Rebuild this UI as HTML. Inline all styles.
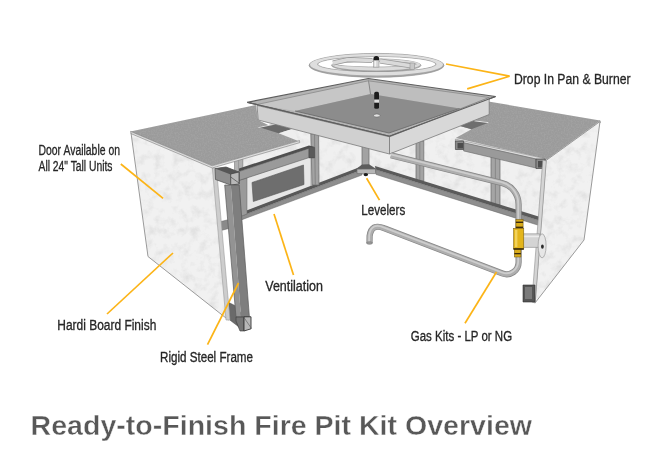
<!DOCTYPE html>
<html><head><meta charset="utf-8">
<style>
html,body{margin:0;padding:0;background:#fff;}
body{width:661px;height:472px;overflow:hidden;}
svg{display:block;}
text{font-family:"Liberation Sans",sans-serif;}
</style></head>
<body>
<svg width="661" height="472" viewBox="0 0 661 472">
<defs>
<filter id="tex" x="0" y="0" width="100%" height="100%" filterUnits="userSpaceOnUse">
  <feTurbulence type="fractalNoise" baseFrequency="0.11" numOctaves="4" seed="7" result="n"/>
  <feColorMatrix in="n" type="matrix" values="0 0 0 0 0.76  0 0 0 0 0.76  0 0 0 0 0.76  0 0 0 -2.6 1.4" result="m"/>
  <feComposite in="m" in2="SourceGraphic" operator="in" result="s"/>
  <feMerge><feMergeNode in="SourceGraphic"/><feMergeNode in="s"/></feMerge>
</filter>
<filter id="tex2" x="0" y="0" width="100%" height="100%" filterUnits="userSpaceOnUse">
  <feTurbulence type="fractalNoise" baseFrequency="0.7" numOctaves="2" seed="11" result="n"/>
  <feColorMatrix in="n" type="matrix" values="0 0 0 0 0.5  0 0 0 0 0.5  0 0 0 0 0.5  0 0 0 -0.6 0.35" result="m"/>
  <feComposite in="m" in2="SourceGraphic" operator="in" result="s"/>
  <feMerge><feMergeNode in="SourceGraphic"/><feMergeNode in="s"/></feMerge>
</filter>
<filter id="soft" x="0" y="0" width="661" height="472" filterUnits="userSpaceOnUse">
  <feGaussianBlur stdDeviation="0.3"/>
</filter>
</defs>
<g filter="url(#soft)">
<rect width="661" height="472" fill="#fff"/>

<!-- ============ BACK PANELS (textured white) ============ -->
<g filter="url(#tex)">
<polygon points="236,150 300,120 390,118 470,125 545,150 545,228 376,172 361,170 241,220" fill="#f0f0f0"/>
</g>

<!-- ============ LEFT ARM FRAME ============ -->
<!-- vent board -->
<polygon points="240,180 311,153 311,187 242,213" fill="#e6e6e6" stroke="#8a8a8a" stroke-width="0.6"/>
<polygon points="252,182.5 303.5,165 304,184.5 253.3,201.5" fill="#6e6e6e" stroke="#555" stroke-width="0.6"/>
<!-- lower rail left arm -->
<polygon points="240,213.1 362,166.3 362,169.8 240,216.6" fill="#585858"/>
<polygon points="240,216.6 362,169.8 362,175 240,220.4" fill="#8e8e8e" stroke="#666" stroke-width="0.5"/>
<!-- back post seen in gap -->
<polygon points="234.5,150 242.8,150 242.8,176 234.5,176" fill="#b2b2b2" stroke="#777" stroke-width="0.6"/>
<line x1="238.6" y1="150" x2="238.6" y2="176" stroke="#8a8a8a" stroke-width="0.7"/>
<!-- post 2 -->
<polygon points="310.8,134 318.6,134 319,185 312,185" fill="#a2a2a2" stroke="#6a6a6a" stroke-width="0.7"/>
<line x1="314.5" y1="134" x2="315.3" y2="185" stroke="#7c7c7c" stroke-width="0.8"/>
<!-- back corner post -->
<polygon points="362,146 369,146 369,167 362,167" fill="#a2a2a2" stroke="#6a6a6a" stroke-width="0.7"/>
<!-- leveler bracket -->
<polygon points="355.5,169.5 362,164.6 369,164.3 377,169.5" fill="#5c5c5c"/>
<polygon points="357,169.1 375.5,169.1 375.5,173.6 357,173.6" fill="#b6b6b6" stroke="#666" stroke-width="0.6"/>
<ellipse cx="365.8" cy="174.6" rx="2.3" ry="1.6" fill="#1e1e1e"/>

<!-- ============ RIGHT ARM FRAME ============ -->
<polygon points="416,141 423.8,141 423.8,181 416,181" fill="#a4a4a4" stroke="#6a6a6a" stroke-width="0.7"/>
<line x1="419.8" y1="141" x2="419.8" y2="181" stroke="#808080" stroke-width="0.8"/>
<polygon points="491,149 500,149 500,205 491,205" fill="#a4a4a4" stroke="#6a6a6a" stroke-width="0.7"/>
<line x1="495.4" y1="149" x2="495.4" y2="205" stroke="#808080" stroke-width="0.8"/>
<polygon points="375,166 541,217.2 541,221 375.5,169.6" fill="#5a5a5a"/>
<polygon points="375.5,169.6 541,221 541,226 376,174.5" fill="#8e8e8e" stroke="#666" stroke-width="0.5"/>

<!-- ============ LEFT COUNTER ============ -->
<polygon points="130.5,131.4 256,105 258,120 299.5,140.6 212.1,165.8" fill="#9b9b9b" filter="url(#tex2)"/>
<!-- notch strip -->
<polygon points="258.5,127 275.4,123.8 292.4,129 278.6,133.3" fill="#6a6a6a"/>
<line x1="258.5" y1="127.5" x2="275.4" y2="124" stroke="#e0e0e0" stroke-width="1"/>
<polygon points="278.6,133.3 292.4,129 299.5,141.5" fill="#eeeeee"/>

<!-- end frame rails visible in gap -->
<polygon points="219,222 229.5,219.4 229.5,228.3 219,231" fill="#8a8a8a" stroke="#555" stroke-width="0.5"/>
<polygon points="228.8,302.5 236.2,306.2 243.6,317 243.6,330.5 229.8,320" fill="#6a6a6a" stroke="#444" stroke-width="0.5"/>

<!-- ============ LEFT END PANEL ============ -->
<g filter="url(#tex)">
<polygon points="131,133 212.3,167.6 229,320 148,256.5" fill="#f1f1f1"/>
</g>
<polyline points="131,133 148,256.5 228.5,320" fill="none" stroke="#9a9a9a" stroke-width="1"/>
<polygon points="212.3,167.6 216.5,168.5 230,320 226,320" fill="#cdcdcd" stroke="#9a9a9a" stroke-width="0.6"/>
<polygon points="130.5,131.4 212.1,165.8 299.5,140.6 299.8,142.6 212.3,168 131,133.6" fill="#dedede" stroke="#7a7a7a" stroke-width="0.6"/>

<!-- vent frame strip -->
<polygon points="239.3,180 247,178 247,214 240.5,216.5" fill="#9a9a9a" stroke="#666" stroke-width="0.5"/>

<!-- top beam left arm (along B) -->
<polygon points="239,168.5 309,145.4 314.6,147 239,171.5" fill="#505050"/>
<polygon points="239,171.5 309,148.4 309,157.6 239,180.5" fill="#9a9a9a" stroke="#5a5a5a" stroke-width="0.6"/>
<polygon points="309,146.5 314.6,147.5 314.6,157.9 309,157.9" fill="#5a5a5a" stroke="#444" stroke-width="0.5"/>

<!-- end rail box (along A) -->
<polygon points="215,168.5 226,167 239,172 239,184 230.7,185 215.5,179.5" fill="#8e8e8e" stroke="#4a4a4a" stroke-width="0.7"/>
<polygon points="215,168.5 226,167 239,172 230.7,174.5" fill="#565656"/>
<polygon points="230.7,174 239,172 239,184 230.7,185" fill="#b8b8b8" stroke="#3a3a3a" stroke-width="0.7"/>
<line x1="230.7" y1="177" x2="239" y2="183" stroke="#4a4a4a" stroke-width="0.7"/>

<!-- front post left arm -->
<polygon points="224.7,185 230.8,185 241,317 236,317" fill="#939393"/>
<polygon points="230.8,185 239.2,185 249.4,317 241,317" fill="#7e7e7e"/>
<polygon points="224.7,185 239.2,185 249.4,317 236,317" fill="none" stroke="#5a5a5a" stroke-width="0.7"/>
<!-- foot -->
<polygon points="236,317 244,317 244,331 240,331 236,321" fill="#747474" stroke="#3a3a3a" stroke-width="0.6"/>
<polygon points="244,316.8 251,316.8 251,328.8 244,331" fill="#b8b8b8" stroke="#333" stroke-width="0.9"/>
<line x1="243.6" y1="317" x2="251.5" y2="328.5" stroke="#555" stroke-width="0.6"/>

<!-- right counter top (under pan) -->
<polygon points="455.7,137.9 471.5,129.3 460,126 478,104 489.8,101.7 600,120.5 547,159" fill="#9b9b9b" filter="url(#tex2)"/>
<polygon points="460,126 474.3,120.3 489.6,122.2 471.5,129.3" fill="#6e6e6e"/>
<line x1="474.3" y1="120.8" x2="488.5" y2="122.6" stroke="#e6e6e6" stroke-width="1"/>

<!-- ============ PAN ============ -->
<polygon points="247.3,102.3 368.3,78.5 495.6,96.5 389.5,136.3" fill="#b4b4b4" stroke="#5e5e5e" stroke-width="1.2"/>
<polygon points="257,104.5 368.3,81 370.7,94 295,111" fill="#c6c6c6"/>
<polygon points="368.3,81 489,97.5 459.6,108.5 370.7,94" fill="#bebebe"/>
<line x1="368.5" y1="80.5" x2="370.5" y2="94" stroke="#7a7a7a" stroke-width="0.8"/>
<polyline points="257,104.5 368.3,80.8 489,97.5" fill="none" stroke="#8a8a8a" stroke-width="0.8"/>
<polygon points="295,111 370.7,94 459.6,108.5 389,133" fill="#8c8c8c"/>
<polyline points="295,111 389,133 459.6,108.5" fill="none" stroke="#666" stroke-width="0.8"/>
<polygon points="257,105.4 389.5,136.8 389.5,154 258.2,120" fill="#d0d0d0" stroke="#7a7a7a" stroke-width="0.8"/>
<polygon points="389.5,136.8 489.2,97.5 489.2,114.5 389.5,154" fill="#d8d8d8" stroke="#7a7a7a" stroke-width="0.8"/>
<polyline points="247.3,102.3 389.5,136.3 495.6,96.5" fill="none" stroke="#5e5e5e" stroke-width="1.1"/>
<!-- pin -->
<rect x="374.2" y="91.8" width="4.8" height="17" rx="1.6" fill="#1e1e1e"/>
<rect x="374.2" y="99.5" width="4.8" height="3.2" fill="#dedede"/>
<ellipse cx="376.8" cy="115.5" rx="3.2" ry="1.6" fill="#e2e2e2" stroke="#666" stroke-width="0.6"/>

<!-- ============ BURNER RING ============ -->
<path d="M331.5,65.35 a44.75,6.45 0 1,0 89.5,0 a44.75,6.45 0 1,0 -89.5,0 Z M336.2,64.25 a40,2.75 0 1,1 80,0 a40,2.75 0 1,1 -80,0 Z" fill="#a9a9a9" fill-rule="evenodd" stroke="#8a8a8a" stroke-width="0.6"/>
<path d="M332.25,64.8 a44,5.7 0 1,0 88,0 a44,5.7 0 1,0 -88,0 Z M335.7,64.25 a40.5,3.0 0 1,1 81.0,0 a40.5,3.0 0 1,1 -81.0,0 Z" fill="#dcdcdc" fill-rule="evenodd"/>
<path d="M333,63 L348,59.5 L372,60.5" fill="none" stroke="#9a9a9a" stroke-width="5"/>
<path d="M333,63 L348,59.5 L372,60.5" fill="none" stroke="#dadada" stroke-width="3.6"/>
<path d="M380,61 L412,66" fill="none" stroke="#9a9a9a" stroke-width="5"/>
<path d="M380,61 L412,66" fill="none" stroke="#dadada" stroke-width="3.6"/>
<rect x="410" y="63" width="4.7" height="6.5" fill="#c8c8c8" stroke="#8a8a8a" stroke-width="0.5"/>
<path d="M309.00,65.35 a67.5,11.95 0 1,0 135.00,0 a67.5,11.95 0 1,0 -135.00,0 Z M317.80,64.15 a59,7.65 0 1,1 118.00,0 a59,7.65 0 1,1 -118.00,0 Z" fill="#a6a6a6" fill-rule="evenodd" stroke="#8a8a8a" stroke-width="0.6"/>
<path d="M310.00,64.6 a66.5,10.9 0 1,0 133.00,0 a66.5,10.9 0 1,0 -133.00,0 Z M317.20,64.15 a59.6,7.9 0 1,1 119.20,0 a59.6,7.9 0 1,1 -119.20,0 Z" fill="#dedede" fill-rule="evenodd"/>
<path d="M373.4,60.3 L373.6,57.5 Q376.3,54.6 379,57.5 L379.2,60.3 Z" fill="#1a1a1a"/>
<rect x="373.6" y="60.3" width="5.4" height="6.8" fill="#d4d4d4" stroke="#8a8a8a" stroke-width="0.5"/>
<rect x="374.6" y="61" width="1.6" height="5.5" fill="#f2f2f2"/>

<!-- ============ RIGHT COUNTER ============ -->
<polygon points="455.4,139.1 547,159 600,120.5 600.5,122.5 547,161.5 455.4,141.3" fill="#dcdcdc" stroke="#777" stroke-width="0.5"/>
<!-- top beam right arm -->
<polygon points="463.6,142.7 536,159 536,168 463.6,150.9" fill="#9a9a9a" stroke="#6a6a6a" stroke-width="0.6"/>
<polygon points="455.4,141 463.6,141 463.6,149.5 455.4,149.5" fill="#8a8a8a" stroke="#444" stroke-width="0.7"/>
<polygon points="457.5,143 463,143 463,148.5 457.5,148.5" fill="#4e4e4e"/>
<polygon points="536,159 545.3,159 545.3,168.5 536,168.5" fill="#8a8a8a" stroke="#444" stroke-width="0.7"/>
<polygon points="538,161 544.5,161 544.5,167.5 538,167.5" fill="#4e4e4e"/>

<!-- ============ RIGHT END PANEL ============ -->
<g filter="url(#tex)">
<polygon points="546,160.5 600,121.5 584,240 535,303" fill="#f1f1f1"/>
</g>
<polygon points="546,160.5 600,121.5 584,240 535,303" fill="none" stroke="#8f8f8f" stroke-width="0.9"/>
<polygon points="542.8,160 546.3,161 535.2,303 531.8,302" fill="#d4d4d4" stroke="#8f8f8f" stroke-width="0.6"/>
<polygon points="523,285 535,285 535,302 523,302" fill="#555" stroke="#333" stroke-width="0.6"/>
<polygon points="525,287 532,287 532,299 525,299" fill="#7a7a7a"/>

<!-- ============ GAS PIPE ============ -->
<g fill="none" stroke-linecap="butt" stroke-linejoin="round">
<path d="M391,155.3 L501.9,183.03 A22,22 0 0,1 518.6,204.38 L518.6,262.19 A12,12 0 0,1 502.32,273.4 L384,228.2 Q371.5,223.1 369.6,236 L369.5,243" stroke="#858585" stroke-width="6.2"/>
<path d="M391,155.3 L501.9,183.03 A22,22 0 0,1 518.6,204.38 L518.6,262.19 A12,12 0 0,1 502.32,273.4 L384,228.2 Q371.5,223.1 369.6,236 L369.5,243" stroke="#aeaeae" stroke-width="4.8"/>
<path d="M391,155.3 L501.9,183.03 A22,22 0 0,1 518.6,204.38 L518.6,262.19 A12,12 0 0,1 502.32,273.4 L384,228.2 Q371.5,223.1 369.6,236 L369.5,243" stroke="#cdcdcd" stroke-width="1.8" transform="translate(-0.4,-0.9)"/>
</g>
<ellipse cx="369.5" cy="243" rx="3" ry="1.3" fill="#9a9a9a" stroke="#777" stroke-width="0.6"/>
<!-- side pipe to panel -->
<polygon points="523,233.8 539.7,233.8 539.7,247.4 523,247.4" fill="#d4d4d4" stroke="#8a8a8a" stroke-width="0.6"/>
<line x1="523" y1="236.5" x2="539.7" y2="236.5" stroke="#ececec" stroke-width="1.5"/>
<ellipse cx="542.1" cy="245.8" rx="4" ry="12" fill="#e6e6e6" stroke="#8a8a8a" stroke-width="0.6"/>
<ellipse cx="542.4" cy="246.6" rx="1.4" ry="2.2" fill="#2a2a2a"/>
<!-- brass valve -->
<rect x="515.9" y="219.5" width="7.2" height="9" fill="#d9ac1c" stroke="#6e5410" stroke-width="0.5"/>
<rect x="513.5" y="228.3" width="10.3" height="20.7" fill="#e3b51e" stroke="#6e5410" stroke-width="0.5"/>
<rect x="514.3" y="249" width="6.6" height="8" fill="#d9ac1c" stroke="#6e5410" stroke-width="0.5"/>
<rect x="515.9" y="221.6" width="7.2" height="1.4" fill="#3a2c08"/>
<rect x="515.9" y="226.6" width="7.2" height="1.4" fill="#3a2c08"/>
<rect x="513.5" y="248.2" width="10.3" height="1.6" fill="#3a2c08"/>
<rect x="514.3" y="253" width="6.6" height="1.3" fill="#3a2c08"/>
<rect x="515" y="230" width="2.4" height="17" fill="#f3d35a"/>

<!-- ============ LEADERS ============ -->
<g stroke="#fcb417" stroke-width="1.7" fill="none">
<polyline points="446,64 509.6,76.2 467.2,88.9"/>
<line x1="120.8" y1="164" x2="163.1" y2="198.4"/>
<line x1="366.6" y1="178.2" x2="379.5" y2="200.1"/>
<line x1="274" y1="214" x2="293.5" y2="275"/>
<line x1="173" y1="253" x2="107" y2="314"/>
<line x1="238.5" y1="283" x2="207.5" y2="344.6"/>
<line x1="496.5" y1="272" x2="465" y2="323.3"/>
</g>

<!-- ============ LABELS ============ -->
<g fill="#262626" font-size="13.8" stroke="#262626" stroke-width="0.3">
<text x="514" y="83.5" textLength="116.5" lengthAdjust="spacingAndGlyphs">Drop In Pan &amp; Burner</text>
<text x="38.5" y="155.3" textLength="81.5" lengthAdjust="spacingAndGlyphs">Door Available on</text>
<text x="38.5" y="170.5" textLength="74" lengthAdjust="spacingAndGlyphs">All 24" Tall Units</text>
<text x="361.3" y="215" textLength="44" lengthAdjust="spacingAndGlyphs">Levelers</text>
<text x="265.3" y="290.8" textLength="57.6" lengthAdjust="spacingAndGlyphs">Ventilation</text>
<text x="57.3" y="330.1" textLength="99" lengthAdjust="spacingAndGlyphs">Hardi Board Finish</text>
<text x="160" y="361.5" textLength="93" lengthAdjust="spacingAndGlyphs">Rigid Steel Frame</text>
<text x="410.8" y="340.6" textLength="101.3" lengthAdjust="spacingAndGlyphs">Gas Kits - LP or NG</text>
</g>

<!-- ============ TITLE ============ -->
<text x="30.6" y="435.3" font-size="28.3" font-weight="bold" fill="#595959" stroke="#ffffff" stroke-width="0.4" textLength="501.4" lengthAdjust="spacingAndGlyphs">Ready-to-Finish Fire Pit Kit Overview</text>
</g>
</svg>
</body></html>
